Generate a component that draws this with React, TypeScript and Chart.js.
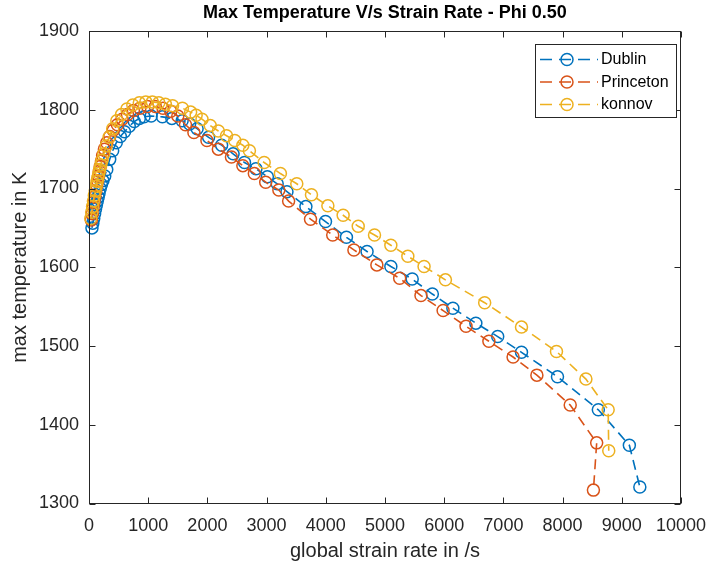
import React, { useEffect, useRef } from "react";
import { Chart, registerables } from "chart.js";

Chart.register(...registerables);

// ---------- data ----------
const seriesNames = ["Dublin", "Princeton", "konnov"];
const seriesColors = ["#0072BD", "#D95319", "#EDB120"];

const xTicks = [0, 1000, 2000, 3000, 4000, 5000, 6000, 7000, 8000, 9000, 10000];
const yTicks = [1300, 1400, 1500, 1600, 1700, 1800, 1900];

const dublinX = [50, 65, 80, 95, 110, 125, 140, 155, 170, 190, 210, 235, 266, 300, 350, 400, 460, 530, 600, 680, 765, 850, 930, 1050, 1240, 1400, 1573, 1700, 1826, 2020, 2240, 2434, 2627, 2820, 3013, 3179, 3344, 3664, 3995, 4349, 4697, 5099, 5460, 5800, 6147, 6535, 6904, 7306, 7914, 8604, 9128, 9305];
const dublinY = [1650, 1656, 1662, 1668, 1674, 1679, 1684, 1689, 1694, 1700, 1705, 1710, 1716, 1724, 1737, 1748, 1758, 1766, 1772, 1779, 1785, 1789, 1791, 1792, 1791, 1789, 1786, 1782, 1776, 1765, 1755, 1744, 1733, 1725, 1715, 1706, 1696, 1677, 1658, 1638, 1620, 1601, 1585, 1566, 1548, 1529, 1512, 1492, 1461, 1419, 1374, 1321];

const princetonX = [40, 55, 70, 85, 100, 115, 130, 145, 160, 175, 190, 210, 230, 260, 300, 350, 410, 480, 560, 650, 750, 860, 990, 1120, 1250, 1380, 1500, 1630, 1772, 1992, 2185, 2406, 2599, 2793, 2985, 3207, 3372, 3742, 4117, 4475, 4863, 5248, 5608, 5982, 6369, 6755, 7164, 7566, 8129, 8576, 8521];
const princetonY = [1660, 1668, 1676, 1683, 1690, 1697, 1704, 1710, 1716, 1722, 1728, 1735, 1742, 1750, 1758, 1766, 1774, 1781, 1788, 1794, 1799, 1802, 1804, 1804, 1802, 1798, 1792, 1781, 1771, 1761, 1750, 1740, 1729, 1719, 1708, 1698, 1684, 1661, 1641, 1622, 1603, 1586, 1564, 1545, 1525, 1506, 1486, 1463, 1425, 1377, 1317];

const konnovX = [30, 45, 60, 75, 90, 105, 120, 135, 150, 165, 180, 200, 220, 250, 290, 340, 400, 470, 550, 640, 740, 850, 960, 1070, 1180, 1290, 1412, 1578, 1717, 1810, 1909, 2048, 2185, 2323, 2462, 2599, 2710, 2959, 3233, 3510, 3758, 4035, 4293, 4548, 4823, 5099, 5386, 5660, 6021, 6684, 7306, 7897, 8394, 8770, 8780];
const konnovY = [1662, 1670, 1677, 1684, 1691, 1697, 1703, 1709, 1714, 1719, 1724, 1730, 1736, 1744, 1754, 1765, 1776, 1786, 1794, 1801, 1806, 1809, 1810, 1810, 1809, 1807, 1805, 1802, 1797, 1793, 1788, 1780, 1773, 1767, 1761, 1755, 1748, 1733, 1719, 1706, 1692, 1678, 1666, 1652, 1641, 1628, 1614, 1601, 1584, 1555, 1524, 1493, 1458, 1419, 1367];

const titleText = "Max Temperature V/s Strain Rate - Phi 0.50";
const xTitleText = "global strain rate in /s";
const yTitleText = "max temperature in K";

// ---------- styles ----------
const AXIS = "#262626";
const FONT = "'Liberation Sans', Arial, Helvetica, sans-serif";
const DASH = [10, 6];

const seriesX = [dublinX, princetonX, konnovX];
const seriesY = [dublinY, princetonY, konnovY];

const framePlugin = {
  id: "matlabFrame",
  afterDatasetsDraw(chart: any) {
    const ctx = chart.ctx as CanvasRenderingContext2D;
    const a = chart.chartArea;
    const xs = chart.scales.x;
    const ys = chart.scales.y;
    ctx.save();
    ctx.setLineDash([]);
    ctx.strokeStyle = AXIS;
    ctx.lineWidth = 1;
    const L = Math.round(a.left) + 0.5;
    const R = Math.round(a.right) - 0.5;
    const T = Math.round(a.top) + 0.5;
    const B = Math.round(a.bottom) - 0.5;
    ctx.strokeRect(L, T, R - L, B - T);
    const tl = 6;
    ctx.beginPath();
    xTicks.forEach((v) => {
      const px = Math.round(xs.getPixelForValue(v)) + 0.5;
      ctx.moveTo(px, B);
      ctx.lineTo(px, B - tl);
      ctx.moveTo(px, T);
      ctx.lineTo(px, T + tl);
    });
    yTicks.forEach((v) => {
      const py = Math.round(ys.getPixelForValue(v)) + 0.5;
      ctx.moveTo(L, py);
      ctx.lineTo(L + tl, py);
      ctx.moveTo(R, py);
      ctx.lineTo(R - tl, py);
    });
    ctx.stroke();

    // title
    const cx = (a.left + a.right) / 2;
    ctx.fillStyle = "#000";
    ctx.textAlign = "center";
    ctx.textBaseline = "middle";
    ctx.font = `bold 18px ${FONT}`;
    ctx.fillText(titleText, cx, 13);

    // axis titles
    ctx.fillStyle = AXIS;
    ctx.font = `20px ${FONT}`;
    ctx.fillText(xTitleText, cx, 551);
    ctx.save();
    ctx.translate(20, (a.top + a.bottom) / 2);
    ctx.rotate(-Math.PI / 2);
    ctx.fillText(yTitleText, 0, 0);
    ctx.restore();

    // legend
    const bx = 535.5, by = 44.5, bw = 141, bh = 73;
    ctx.fillStyle = "#fff";
    ctx.fillRect(bx, by, bw, bh);
    ctx.strokeStyle = AXIS;
    ctx.lineWidth = 1;
    ctx.strokeRect(bx, by, bw, bh);
    seriesNames.forEach((name, i) => {
      const y = 59.5 + i * 22.5;
      ctx.strokeStyle = seriesColors[i];
      ctx.lineWidth = 1.5;
      ctx.setLineDash([12, 7]);
      ctx.beginPath();
      ctx.moveTo(540, y);
      ctx.lineTo(598, y);
      ctx.stroke();
      ctx.setLineDash([]);
      ctx.beginPath();
      ctx.arc(567, y, 6, 0, Math.PI * 2);
      ctx.stroke();
      ctx.fillStyle = "#000";
      ctx.font = `16px ${FONT}`;
      ctx.textAlign = "left";
      ctx.textBaseline = "middle";
      ctx.fillText(name, 601, y + 0.5);
    });
    ctx.restore();
  },
};

export default function App() {
  const canvasRef = useRef<HTMLCanvasElement | null>(null);

  useEffect(() => {
    const canvas = canvasRef.current;
    if (!canvas) return;
    const datasets = seriesNames.map((name, i) => ({
      label: name,
      data: seriesX[i].map((x, j) => ({ x, y: seriesY[i][j] })),
      showLine: true,
      borderColor: seriesColors[i],
      borderWidth: 1.6,
      borderDash: DASH,
      tension: 0,
      pointRadius: 6,
      pointHoverRadius: 6,
      pointStyle: "circle",
      pointBorderColor: seriesColors[i],
      pointBackgroundColor: "rgba(0,0,0,0)",
      pointBorderWidth: 1.5,
      order: 2 - i,
      clip: 8,
    }));

    const chart = new Chart(canvas, {
      type: "scatter",
      data: { datasets },
      options: {
        responsive: false,
        animation: false,
        devicePixelRatio: 1,
        layout: { padding: { top: 31, right: 28, left: 0, bottom: 0 } },
        plugins: {
          legend: { display: false },
          tooltip: { enabled: false },
          title: { display: false },
        },
        scales: {
          x: {
            type: "linear",
            min: 0,
            max: 10000,
            grid: { display: false, drawTicks: false },
            border: { display: false },
            afterBuildTicks: (s: any) => {
              s.ticks = xTicks.map((v) => ({ value: v }));
            },
            afterFit: (s: any) => {
              s.height = 61.5;
            },
            ticks: {
              color: AXIS,
              font: { family: FONT, size: 18 },
              padding: 12,
              maxRotation: 0,
              autoSkip: false,
              callback: (v: any) => String(v),
            },
          },
          y: {
            type: "linear",
            min: 1300,
            max: 1900,
            grid: { display: false, drawTicks: false },
            border: { display: false },
            afterBuildTicks: (s: any) => {
              s.ticks = yTicks.map((v) => ({ value: v }));
            },
            afterFit: (s: any) => {
              s.width = 89;
            },
            ticks: {
              color: AXIS,
              font: { family: FONT, size: 18 },
              padding: 10,
              autoSkip: false,
              callback: (v: any) => String(v),
            },
          },
        },
      },
      plugins: [framePlugin],
    } as any);

    return () => chart.destroy();
  }, []);

  return (
    <div style={{ position: "absolute", left: 0, top: 0, width: 718, height: 565, background: "#fff" }}>
      <canvas ref={canvasRef} width={718} height={565} style={{ width: 718, height: 565, display: "block" }} />
    </div>
  );
}
